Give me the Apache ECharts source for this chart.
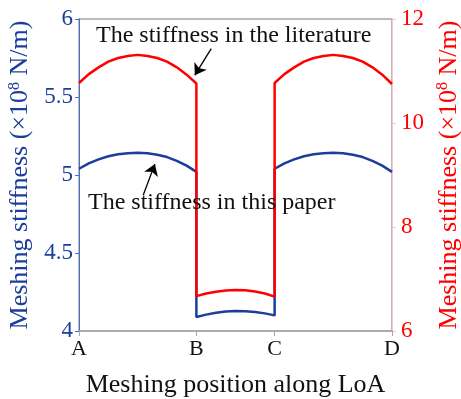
<!DOCTYPE html>
<html>
<head>
<meta charset="utf-8">
<script src="https://cdn.jsdelivr.net/npm/echarts@6/dist/echarts.min.js"></script>
<style>
  html, body { margin: 0; padding: 0; background: #fff; }
  #chart { width: 461px; height: 399px; }
</style>
</head>
<body>
<div id="chart"></div>
<script>
// Meshing positions along the line of action (A..D) and their tick labels
const tickPositions = [0, 1.5, 2.5, 4];
const tickLabels = ['A', 'B', 'C', 'D'];

// Positions sampled along LoA (repeated x = vertical jump at B and C)
const positions = [
  0, 0.125, 0.25, 0.375, 0.5, 0.625, 0.75, 0.875, 1.0, 1.125, 1.25, 1.375, 1.5,
  1.5, 1.625, 1.75, 1.875, 2.0, 2.125, 2.25, 2.375, 2.5,
  2.5, 2.625, 2.75, 2.875, 3.0, 3.125, 3.25, 3.375, 3.5, 3.625, 3.75, 3.875, 4.0
];

// Stiffness in this paper (x10^8 N/m, left axis)
const stiffnessPaper = [
  5.04, 5.075, 5.10, 5.12, 5.133, 5.14, 5.142, 5.14, 5.13, 5.115, 5.09, 5.06, 5.02,
  4.09, 4.105, 4.117, 4.125, 4.128, 4.127, 4.122, 4.113, 4.10,
  5.04, 5.075, 5.10, 5.12, 5.133, 5.14, 5.142, 5.14, 5.13, 5.115, 5.09, 5.06, 5.02
];

// Stiffness in the literature (x10^8 N/m, right axis)
const stiffnessLiterature = [
  10.77, 10.94, 11.07, 11.18, 11.25, 11.29, 11.31, 11.29, 11.25, 11.18, 11.07, 10.93, 10.76,
  6.67, 6.72, 6.755, 6.78, 6.79, 6.785, 6.76, 6.72, 6.66,
  10.77, 10.94, 11.07, 11.18, 11.25, 11.29, 11.31, 11.29, 11.25, 11.18, 11.07, 10.93, 10.75
];

const FONT = '"Liberation Serif", "Times New Roman", serif';
const BLUE = '#1b3e9d';
const RED = '#ff0000';

const pair = (xs, ys) => xs.map((x, i) => [x, ys[i]]);

function axisName(color) {
  return {
    rich: {
      a: { fontFamily: FONT, fontSize: 26, color: color },
      s: { fontFamily: FONT, fontSize: 16, color: color, verticalAlign: 'top', padding: [0, 0, 12, 0] }
    }
  };
}

const chart = echarts.init(document.getElementById('chart'));
chart.setOption({
  animation: false,
  backgroundColor: '#fff',
  grid: {
    left: 79, right: 69, top: 19, bottom: 68,
    outerBoundsMode: 'none',
    show: true, borderColor: '#a6a6a6', borderWidth: 1.5
  },
  xAxis: {
    type: 'value', min: 0, max: 4,
    name: 'Meshing position along LoA',
    nameLocation: 'middle', nameGap: 41,
    nameTextStyle: { fontFamily: FONT, fontSize: 26, color: '#111' },
    axisLine: { lineStyle: { color: '#a6a6a6', width: 1.5 } },
    axisTick: { show: true, length: 5, customValues: tickPositions, lineStyle: { color: '#a6a6a6' } },
    axisLabel: {
      customValues: tickPositions,
      formatter: v => tickLabels[tickPositions.indexOf(v)],
      fontFamily: FONT, fontSize: 22, color: '#111', margin: 7
    },
    splitLine: { show: false }
  },
  yAxis: [
    {
      type: 'value', min: 4, max: 6, interval: 0.5, position: 'left',
      name: '{a|Meshing stiffness (×10}{s|8}{a| N/m)}',
      nameLocation: 'middle', nameGap: 37, nameRotate: 90,
      nameTextStyle: axisName(BLUE),
      axisLine: { show: true, lineStyle: { color: '#4a6fd0', width: 1 } },
      axisTick: { show: true, length: 4, lineStyle: { color: '#4a6fd0' } },
      axisLabel: { fontFamily: FONT, fontSize: 23, color: BLUE, margin: 6 },
      splitLine: { show: false }
    },
    {
      type: 'value', min: 6, max: 12, interval: 2, position: 'right',
      name: '{a|Meshing stiffness (×10}{s|8}{a| N/m)}',
      nameLocation: 'middle', nameGap: 40, nameRotate: 90,
      nameTextStyle: axisName(RED),
      axisLine: { show: true, lineStyle: { color: '#ffc4c4', width: 1 } },
      axisTick: { show: true, length: 4, lineStyle: { color: '#ffc4c4' } },
      axisLabel: { fontFamily: FONT, fontSize: 23, color: RED, margin: 9 },
      splitLine: { show: false }
    }
  ],
  series: [
    {
      name: 'The stiffness in this paper',
      type: 'line', yAxisIndex: 0,
      data: pair(positions, stiffnessPaper),
      showSymbol: false, symbol: 'none',
      lineStyle: { color: BLUE, width: 2.5 },
      z: 2,
      markLine: {
        silent: true, animation: false,
        symbol: ['none', 'arrow'], symbolSize: 11,
        label: { show: false },
        emphasis: { disabled: true },
        lineStyle: { color: '#000', type: 'solid', width: 1.3 },
        data: [
          [{ coord: [0.82, 4.87] }, { coord: [0.97, 5.07] }],
          [{ coord: [1.69, 5.81] }, { coord: [1.48, 5.64] }]
        ]
      }
    },
    {
      name: 'The stiffness in the literature',
      type: 'line', yAxisIndex: 1,
      data: pair(positions, stiffnessLiterature),
      showSymbol: false, symbol: 'none',
      lineStyle: { color: RED, width: 2.5 },
      z: 3
    }
  ],
  graphic: [
    {
      type: 'text', left: 96, top: 24, z: 10,
      style: { text: 'The stiffness in the literature', font: '24px ' + FONT, fill: '#111' }
    },
    {
      type: 'text', left: 88, top: 191, z: 10,
      style: { text: 'The stiffness in this paper', font: '24px ' + FONT, fill: '#111' }
    }
  ]
});
</script>
</body>
</html>
